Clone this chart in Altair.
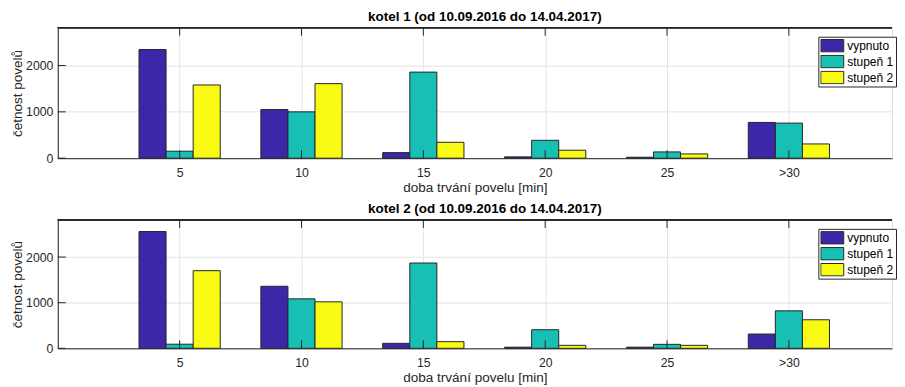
import json
import altair as alt
import pandas as pd

FONT = "Liberation Sans"

categories = ["5", "10", "15", "20", "25", ">30"]
series = ["vypnuto", "stupeň 1", "stupeň 2"]
colors = ["#3e26a8", "#17bfb4", "#f9fb15"]

kotel1_vypnuto = [2345, 1051, 120, 28, 20, 772]
kotel1_stupen1 = [150, 1000, 1858, 386, 135, 757]
kotel1_stupen2 = [1580, 1609, 343, 172, 92, 307]

kotel2_vypnuto = [2560, 1360, 109, 25, 25, 313]
kotel2_stupen1 = [90, 1084, 1870, 408, 87, 822]
kotel2_stupen2 = [1702, 1019, 146, 65, 65, 626]

titles = ["kotel 1 (od 10.09.2016 do 14.04.2017)",
          "kotel 2 (od 10.09.2016 do 14.04.2017)"]
x_title = "doba trvání povelu [min]"
y_title = "četnost povelů"
y_ticks = [0, 1000, 2000]

Y_MAX = 2815
PLOT_W = 838
X_MAX = PLOT_W / 122.4
BAR_W = 0.2222
TEXT = "#262626"
GRID = "#e3e3e3"


def make_df(vals_by_series):
    rows = []
    for si, (name, vals) in enumerate(zip(series, vals_by_series)):
        for ci, v in enumerate(vals):
            rows.append({"ci": ci + 1, "si": si, "series": name, "value": v})
    return pd.DataFrame(rows)


label_expr = json.dumps([""] + categories) + "[datum.value]"


def panel(df, title, height):
    x_scale = alt.Scale(domain=[0, X_MAX], nice=False, zero=False)
    y_scale = alt.Scale(domain=[0, Y_MAX], nice=False, zero=False)

    bars = alt.Chart(df).transform_calculate(
        x0=f"datum.ci + (datum.si - 1) * {BAR_W} - {BAR_W / 2}",
        x1=f"datum.ci + (datum.si - 1) * {BAR_W} + {BAR_W / 2}",
    ).mark_bar(stroke=TEXT, strokeWidth=1, opacity=1).encode(
        x=alt.X("x0:Q", scale=x_scale,
                axis=alt.Axis(values=list(range(1, len(categories) + 1)),
                              labelExpr=label_expr, title=x_title,
                              grid=True, gridColor=GRID, ticks=False,
                              domainColor=TEXT, labelColor=TEXT,
                              labelFont=FONT, labelFontSize=12.3,
                              labelPadding=8, titleFont=FONT,
                              titleFontSize=13.6, titleFontWeight="normal",
                              titleColor=TEXT, titlePadding=2)),
        x2="x1:Q",
        y=alt.Y("value:Q", scale=y_scale,
                axis=alt.Axis(values=y_ticks, format="d", title=y_title,
                              grid=True, gridColor=GRID, ticks=False,
                              domainColor=TEXT, labelColor=TEXT,
                              labelFont=FONT, labelFontSize=12.3,
                              labelPadding=5, titleFont=FONT,
                              titleFontSize=13.6, titleFontWeight="normal",
                              titleColor=TEXT, titlePadding=1)),
        y2=alt.datum(0),
        color=alt.Color("series:N",
                        scale=alt.Scale(domain=series, range=colors),
                        legend=alt.Legend(title=None, orient="none",
                                          legendX=764, legendY=9,
                                          direction="vertical",
                                          symbolType="M-1,-0.54H1V0.54H-1Z",
                                          symbolSize=529,
                                          symbolStrokeColor=TEXT,
                                          symbolStrokeWidth=1,
                                          symbolOpacity=1,
                                          clipHeight=14,
                                          labelFont=FONT, labelFontSize=12,
                                          labelColor="#000", labelOffset=3,
                                          strokeColor=TEXT, fillColor="white",
                                          padding=2, rowPadding=2,
                                          cornerRadius=0)),
    )

    cat_df = pd.DataFrame({"ci": list(range(1, len(categories) + 1))})
    top_ticks = alt.Chart(cat_df).mark_rule(color=TEXT, strokeWidth=1).encode(
        x=alt.X("ci:Q", scale=x_scale), y=alt.value(0), y2=alt.value(8))
    bot_ticks = alt.Chart(cat_df).mark_rule(color=TEXT, strokeWidth=1).encode(
        x=alt.X("ci:Q", scale=x_scale), y=alt.value(height), y2=alt.value(height - 8))
    ytick_df = pd.DataFrame({"v": y_ticks})
    left_ticks = alt.Chart(ytick_df).mark_rule(color=TEXT, strokeWidth=1).encode(
        y=alt.Y("v:Q", scale=y_scale), x=alt.value(0), x2=alt.value(8))
    top_border = alt.Chart(cat_df).mark_rule(color=TEXT, strokeWidth=1).encode(
        x=alt.value(0), x2=alt.value(PLOT_W), y=alt.value(0))

    return alt.layer(bars, top_ticks, bot_ticks, left_ticks, top_border).properties(
        width=PLOT_W, height=height,
        title=alt.TitleParams(title, font=FONT, fontSize=13.5, fontWeight="bold",
                              color="#000", offset=4, anchor="middle", dx=10))


df1 = make_df([kotel1_vypnuto, kotel1_stupen1, kotel1_stupen2])
df2 = make_df([kotel2_vypnuto, kotel2_stupen1, kotel2_stupen2])

chart = alt.vconcat(
    panel(df1, titles[0], 131),
    panel(df2, titles[1], 129),
    spacing=6,
).resolve_scale(color="independent").properties(
    padding={"left": 2, "top": 0, "right": 0, "bottom": 0}
).configure_view(stroke=None).configure(background="white")

chart.save("out.html", embed_options={"renderer": "svg", "actions": False})
